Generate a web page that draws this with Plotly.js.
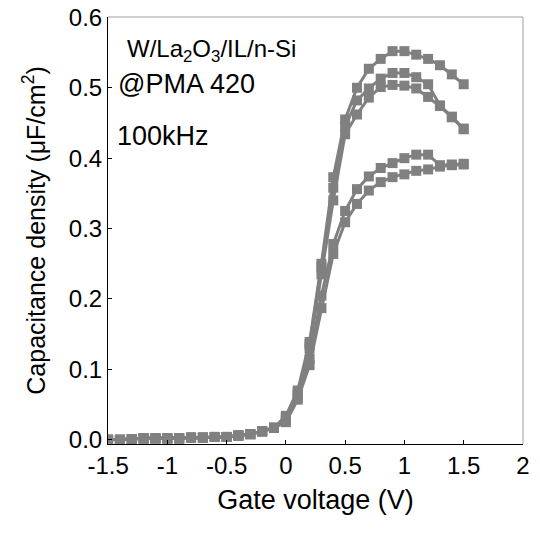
<!DOCTYPE html>
<html>
<head>
<meta charset="utf-8">
<script src="https://cdn.plot.ly/plotly-3.0.1.min.js"></script>
<style>html,body{margin:0;padding:0;background:#fff;}</style>
</head>
<body>
<div id="chart" style="width:540px;height:534px;"></div>
<script>
// Gate voltage (V), 0.1 V steps
const gateVoltage = [-1.5,-1.4,-1.3,-1.2,-1.1,-1.0,-0.9,-0.8,-0.7,-0.6,-0.5,-0.4,-0.3,-0.2,-0.1,0.0,0.1,0.2,0.3,0.4,0.5,0.6,0.7,0.8,0.9,1.0,1.1,1.2,1.3,1.4,1.5];

// Capacitance density (uF/cm^2)
const curveA = [0.000,0.000,0.001,0.002,0.002,0.002,0.002,0.003,0.003,0.004,0.004,0.006,0.008,0.012,0.017,0.034,0.070,0.139,0.250,0.373,0.455,0.500,0.527,0.541,0.552,0.552,0.547,0.541,0.532,0.519,0.505];
const curveB = [0.000,0.000,0.001,0.002,0.002,0.002,0.002,0.003,0.003,0.004,0.004,0.006,0.008,0.012,0.017,0.032,0.067,0.135,0.245,0.358,0.445,0.482,0.499,0.513,0.521,0.521,0.515,0.505,0.475,0.459,0.442];
const curveC = [0.000,0.000,0.001,0.002,0.002,0.002,0.002,0.003,0.003,0.004,0.004,0.006,0.008,0.012,0.017,0.030,0.064,0.130,0.235,0.340,0.434,0.462,0.486,0.501,0.504,0.503,0.499,0.487,0.474,0.458,0.441];
const curveD = [0.000,0.000,0.001,0.002,0.002,0.002,0.002,0.003,0.003,0.004,0.004,0.006,0.008,0.012,0.017,0.028,0.060,0.115,0.205,0.278,0.325,0.356,0.374,0.386,0.393,0.400,0.405,0.405,0.390,0.391,0.392];
const curveE = [0.000,0.000,0.001,0.002,0.002,0.002,0.002,0.003,0.003,0.004,0.004,0.006,0.008,0.012,0.017,0.025,0.057,0.106,0.187,0.264,0.309,0.335,0.354,0.366,0.373,0.377,0.382,0.384,0.388,0.390,0.391];

const xTickVals = [-1.5,-1,-0.5,0,0.5,1,1.5,2];
const xTickText = ['-1.5','-1','-0.5','0','0.5','1','1.5','2'];
const yTickVals = [0,0.1,0.2,0.3,0.4,0.5,0.6];
const yTickText = ['0.0','0.1','0.2','0.3','0.4','0.5','0.6'];

const seriesList = [curveA, curveB, curveC, curveD, curveE];
const grey = '#808080';
const FONT = 'Liberation Sans, Arial, sans-serif';

const traces = seriesList.map(ys => ({
  x: gateVoltage, y: ys, type: 'scatter', mode: 'lines+markers',
  line: {color: grey, width: 3},
  marker: {symbol: 'square', size: 10, color: grey, line: {width: 0}},
  showlegend: false, hoverinfo: 'skip'
}));

const layout = {
  width: 540, height: 534,
  margin: {l: 108, r: 17, t: 17, b: 90},
  paper_bgcolor: '#fff', plot_bgcolor: '#fff',
  font: {family: FONT, color: '#000'},
  showlegend: false,
  xaxis: {
    range: [-1.5005, 2.0005], tickmode: 'array', tickvals: xTickVals, ticktext: xTickText,
    ticks: 'inside', ticklen: 4, tickcolor: '#000', tickwidth: 1,
    showline: true, linecolor: '#000', linewidth: 1,
    showgrid: false, zeroline: false,
    tickfont: {size: 24, family: FONT, color: '#000'},
    title: {text: 'Gate voltage (V)', font: {size: 27, family: FONT, color: '#000'}, standoff: 12}
  },
  yaxis: {
    range: [-0.006, 0.6005], tickmode: 'array', tickvals: yTickVals, ticktext: yTickText,
    ticks: 'inside', ticklen: 4, tickcolor: '#000', tickwidth: 1,
    showline: true, linecolor: '#000', linewidth: 1,
    showgrid: false, zeroline: false,
    tickfont: {size: 24, family: FONT, color: '#000'},
    title: {text: 'Capacitance density (\u03BCF/cm<sup>2</sup>)', font: {size: 25, family: FONT, color: '#000'}, standoff: 16}
  },
  shapes: [
    {type: 'line', xref: 'paper', yref: 'paper', x0: 0, x1: 1, y0: 1, y1: 1, line: {color: '#a0a0a0', width: 1}},
    {type: 'line', xref: 'paper', yref: 'paper', x0: 1, x1: 1, y0: 0, y1: 1, line: {color: '#a0a0a0', width: 1}}
  ],
  annotations: [
    {xref: 'paper', yref: 'paper', x: 0.041, y: 0.922, xanchor: 'left', yanchor: 'middle', showarrow: false,
     text: 'W/La<sub>2</sub>O<sub>3</sub>/IL/n-Si', font: {size: 24, family: FONT, color: '#000'}},
    {xref: 'paper', yref: 'paper', x: 0.020, y: 0.842, xanchor: 'left', yanchor: 'middle', showarrow: false,
     text: '@PMA 420', font: {size: 27, family: FONT, color: '#000'}},
    {xref: 'paper', yref: 'paper', x: 0.018, y: 0.721, xanchor: 'left', yanchor: 'middle', showarrow: false,
     text: '100kHz', font: {size: 27, family: FONT, color: '#000'}}
  ]
};

Plotly.newPlot('chart', traces, layout, {staticPlot: true, displayModeBar: false});
</script>
</body>
</html>
